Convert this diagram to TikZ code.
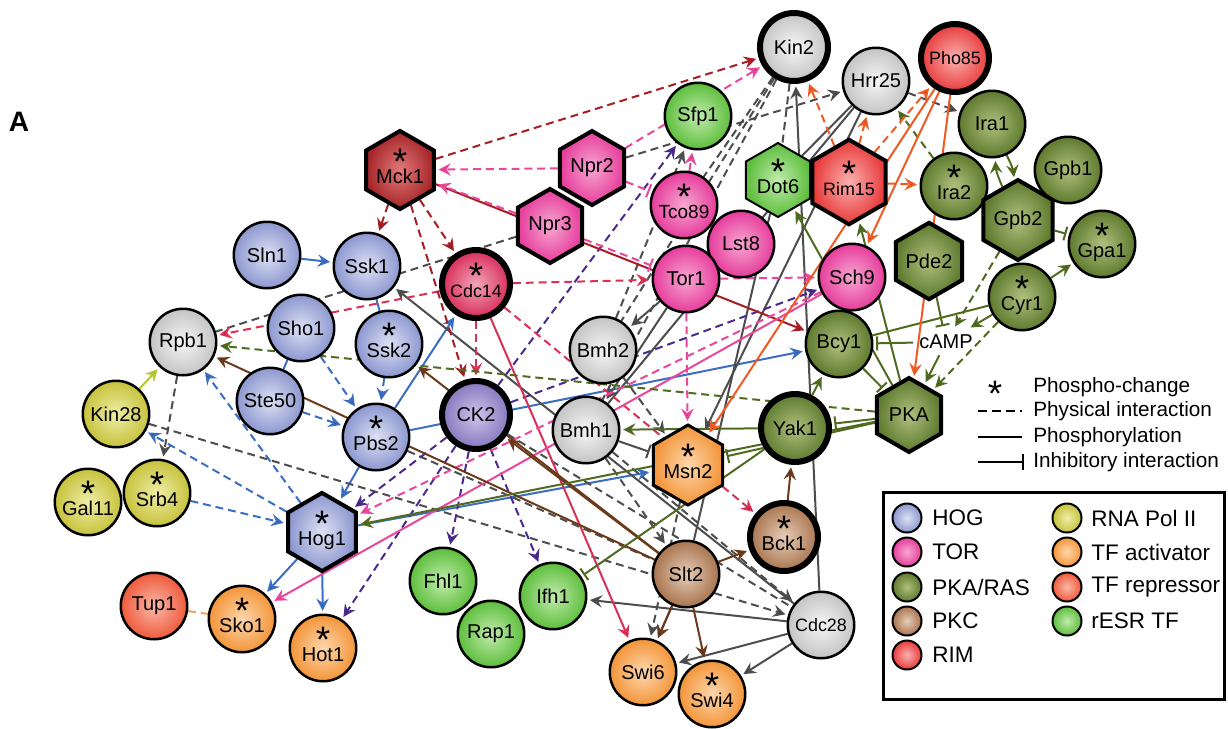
\documentclass[tikz,border=0pt]{standalone}
\usepackage{fontspec}
\setmainfont{Liberation Sans}
\usetikzlibrary{shapes.geometric,arrows.meta,backgrounds}

% node fills (outer / inner) and line colours
\definecolor{hogo}{HTML}{8C97CF}\definecolor{hogi}{HTML}{DDE1F4}\definecolor{hogc}{HTML}{3B6DC2}
\definecolor{toro}{HTML}{E63C9B}\definecolor{tori}{HTML}{F7A8D2}\definecolor{torc}{HTML}{E8479C}
\definecolor{pkao}{HTML}{5E7A2E}\definecolor{pkai}{HTML}{AFC07E}\definecolor{pkac}{HTML}{506B20}
\definecolor{pkco}{HTML}{A8744E}\definecolor{pkci}{HTML}{E6CDB8}\definecolor{pkcc}{HTML}{6B3A1A}
\definecolor{rimo}{HTML}{E83A3A}\definecolor{rimi}{HTML}{FBB0B0}\definecolor{rimc}{HTML}{F05A22}
\definecolor{polo}{HTML}{C6C23C}\definecolor{poli}{HTML}{EFEEA8}\definecolor{polc}{HTML}{B4C92A}
\definecolor{tfao}{HTML}{F39539}\definecolor{tfai}{HTML}{FDD7AE}\definecolor{tfac}{HTML}{F2A35C}
\definecolor{repo}{HTML}{EE5A3C}\definecolor{repi}{HTML}{FBB8A8}
\definecolor{esro}{HTML}{5DBE3C}\definecolor{esri}{HTML}{C2EBAE}
\definecolor{greyo}{HTML}{C4C4C4}\definecolor{greyi}{HTML}{F6F6F6}\definecolor{greyc}{HTML}{4D4D4D}
\definecolor{mcko}{HTML}{A52428}\definecolor{mcki}{HTML}{E27A7A}\definecolor{mckc}{HTML}{A61E24}
\definecolor{cdco}{HTML}{D82C58}\definecolor{cdci}{HTML}{F2A6B8}\definecolor{cdcc}{HTML}{D93055}
\definecolor{cko}{HTML}{8676BE}\definecolor{cki}{HTML}{CDC4EA}\definecolor{ckc}{HTML}{4B2A8E}

% star over a label
\newcommand{\ph}[1]{{\fontsize{21}{10}\selectfont *}\\[-7pt]#1\rule[-4pt]{0pt}{4pt}}

\begin{document}
\begin{tikzpicture}[x=0.02cm, y=-0.02cm,
  font=\fontsize{11.4}{12}\selectfont,
  mynode/.style={draw, circle, minimum size=1.33cm, inner sep=0pt, line width=0.05cm, align=center},
  mynodethick/.style={mynode, line width=0.12cm, minimum size=1.36cm},
  myhex/.style={draw, regular polygon, regular polygon sides=6, shape border rotate=30,
    minimum size=1.48cm, inner sep=0pt, line width=0.08cm, align=center},
  tight/.style={font=\fontsize{10.2}{12}\selectfont},
  hogfill/.style={shade, inner color=hogi, outer color=hogo},
  torfill/.style={shade, inner color=tori, outer color=toro},
  pkafill/.style={shade, inner color=pkai, outer color=pkao},
  pkcfill/.style={shade, inner color=pkci, outer color=pkco},
  rimfill/.style={shade, inner color=rimi, outer color=rimo},
  polfill/.style={shade, inner color=poli, outer color=polo},
  tfafill/.style={shade, inner color=tfai, outer color=tfao},
  repfill/.style={shade, inner color=repi, outer color=repo},
  esrfill/.style={shade, inner color=esri, outer color=esro},
  greyfill/.style={shade, inner color=greyi, outer color=greyo},
  mckfill/.style={shade, inner color=mcki, outer color=mcko},
  cdcfill/.style={shade, inner color=cdci, outer color=cdco},
  ckfill/.style={shade, inner color=cki, outer color=cko},
  act/.style={-{Stealth[length=7pt,width=7pt,inset=2.5pt]}, shorten >=1.5pt},
  inh/.style={-{Bar[width=8pt]}, shorten >=1.5pt},
  phys/.style={dash pattern=on 4.5pt off 2.8pt},
  hogl/.style={draw=hogc, line width=0.04cm},
  torl/.style={draw=torc, line width=0.04cm},
  pkal/.style={draw=pkac, line width=0.04cm},
  pkcl/.style={draw=pkcc, line width=0.04cm},
  riml/.style={draw=rimc, line width=0.04cm},
  poll/.style={draw=polc, line width=0.04cm},
  tfal/.style={draw=tfac, line width=0.04cm},
  greyl/.style={draw=greyc, line width=0.04cm},
  mckl/.style={draw=mckc, line width=0.04cm},
  cdcl/.style={draw=cdcc, line width=0.04cm},
  ckl/.style={draw=ckc, line width=0.04cm},
  legdot/.style={draw, circle, minimum size=0.58cm, inner sep=0pt, line width=0.04cm},
  keytext/.style={anchor=west, inner sep=0pt}
]
\useasboundingbox (0,0) rectangle (1228,728);

\node[font=\fontsize{16}{16}\selectfont\bfseries] (panel) at (19,122) {A};

% HOG
\node[mynode, hogfill] (Sln1) at (267,255) {Sln1};
\node[mynode, hogfill] (Ssk1) at (367,266) {Ssk1};
\node[mynode, hogfill] (Sho1) at (301,328) {Sho1};
\node[mynode, hogfill] (Ssk2) at (389,344) {\ph{Ssk2}};
\node[mynode, hogfill] (Ste50) at (270,401) {Ste50};
\node[mynode, hogfill] (Pbs2) at (376,437) {\ph{Pbs2}};
\node[myhex, hogfill] (Hog1) at (322,532) {\ph{Hog1}};

% RNA Pol II
\node[mynode, greyfill] (Rpb1) at (183,342) {Rpb1};
\node[mynode, polfill] (Kin28) at (116,414) {Kin28};
\node[mynode, polfill] (Gal11) at (88,502) {\ph{Gal11}};
\node[mynode, polfill] (Srb4) at (157,493) {\ph{Srb4}};

% transcription factors
\node[mynode, repfill] (Tup1) at (154,606) {Tup1};
\node[mynode, tfafill] (Sko1) at (242,619) {\ph{Sko1}};
\node[mynode, tfafill] (Hot1) at (323,648) {\ph{Hot1}};
\node[mynode, esrfill] (Fhl1) at (443,581) {Fhl1};
\node[mynode, esrfill] (Rap1) at (491,634) {Rap1};
\node[mynode, esrfill] (Ifh1) at (553,596) {Ifh1};
\node[mynode, tfafill] (Swi6) at (643,672) {Swi6};
\node[mynode, tfafill] (Swi4) at (712,694) {\ph{Swi4}};
\node[myhex, tfafill, line width=0.06cm] (Msn2) at (688,465) {\ph{Msn2}};
\node[mynode, esrfill] (Sfp1) at (698,116) {Sfp1};
\node[myhex, esrfill, line width=0.04cm] (Dot6) at (778,180) {\ph{Dot6}};

% PKC
\node[mynode, pkcfill] (Slt2) at (686,574) {Slt2};
\node[mynodethick, pkcfill] (Bck1) at (784,537) {\ph{Bck1}};

% other kinases
\node[mynodethick, greyfill] (Kin2) at (794,47) {Kin2};
\node[mynode, greyfill] (Hrr25) at (876,81) {Hrr25};
\node[mynode, greyfill] (Bmh2) at (603,350) {Bmh2};
\node[mynode, greyfill] (Bmh1) at (586,430) {Bmh1};
\node[mynode, greyfill, tight] (Cdc28) at (821,625) {Cdc28};
\node[mynodethick, ckfill] (CK2) at (476,415) {CK2};
\node[mynodethick, cdcfill, tight] (Cdc14) at (476,284) {\ph{Cdc14}};
\node[myhex, mckfill] (Mck1) at (400,170) {\ph{Mck1}};

% TOR
\node[myhex, torfill] (Npr2) at (592,168) {Npr2};
\node[myhex, torfill] (Npr3) at (550,226) {Npr3};
\node[mynode, torfill, font=\fontsize{10.8}{12}\selectfont] (Tco89) at (684,205) {\ph{Tco89}};
\node[mynode, torfill] (Lst8) at (741,244) {Lst8};
\node[mynode, torfill] (Tor1) at (686,279) {Tor1};
\node[mynode, torfill] (Sch9) at (852,277) {Sch9};

% RIM
\node[mynodethick, rimfill, tight] (Pho85) at (955,58) {Pho85};
\node[myhex, rimfill, tight] (Rim15) at (849,182) {\ph{Rim15}};

% PKA/RAS
\node[mynode, pkafill] (Ira1) at (992,124) {Ira1};
\node[mynode, pkafill] (Ira2) at (954,186) {\ph{Ira2}};
\node[mynode, pkafill] (Gpb1) at (1068,170) {Gpb1};
\node[myhex, pkafill] (Gpb2) at (1018,220) {Gpb2};
\node[mynode, pkafill] (Gpa1) at (1102,244) {\ph{Gpa1}};
\node[myhex, pkafill] (Pde2) at (929,261) {Pde2};
\node[mynode, pkafill] (Cyr1) at (1022,297) {\ph{Cyr1}};
\node[mynode, pkafill] (Bcy1) at (839,344) {Bcy1};
\node (cAMP) at (946,342) {cAMP};
\node[myhex, pkafill] (PKA) at (909,415) {PKA};
\node[mynodethick, pkafill] (Yak1) at (795,428) {Yak1};

\begin{scope}[on background layer]
% HOG
\path[hogl, act]
 (Sln1) edge (Ssk1)
 (Pbs2) edge (Hog1)
 (Pbs2) edge (Cdc14)
 (Pbs2) edge (Bcy1)
 (Hog1) edge (Sko1)
 (Hog1) edge (Hot1)
 (Hog1) edge (Msn2);
\path[hogl] (Ssk1) edge (Ssk2) (Sho1) edge (Ste50);
\path[hogl, act, phys]
 (Ssk2) edge (Pbs2)
 (Sho1) edge (Pbs2)
 (Ste50) edge (Pbs2)
 (Hog1) edge (Rpb1)
 (Hog1) edge (Kin28)
 (Srb4) edge (Hog1);

% Pol II and repressor
\path[poll, act] (Kin28) edge (Rpb1);
\path[tfal, phys] (Tup1) edge (Sko1);

% grey kinases / 14-3-3
\path[greyl, act]
 (Cdc28) edge (Ssk1)
 (Cdc28) edge (Kin2)
 (Cdc28) edge (Ifh1)
 (Cdc28) edge (Swi4)
 (Cdc28) edge (Swi6)
 (Tor1) edge (Bmh2)
 (Tor1) edge (Bmh1)
 (Slt2) edge (Swi6)
 (Hrr25) edge (Msn2);
\path[greyl] (Hrr25) edge (Dot6) (Hrr25) edge (Bmh1) (Dot6) edge (Slt2);
\path[greyl, inh] (Bmh1) edge (Msn2);
\path[greyl, act, phys]
 (Rpb1) edge (Srb4)
 (Kin28) edge (Cdc28)
 (Npr2) edge (Hrr25)
 (Bmh2) edge (Sfp1)
 (Hrr25) edge (Ira1)
 (Msn2) edge (Swi6)
 (Bmh1) edge (Slt2)
 (Bmh1) edge (Cdc28)
 (Bmh2) edge (Msn2);
\path[greyl, phys]
 (Npr3) edge (Rpb1)
 (Pbs2) edge (Slt2)
 (CK2) edge (Cdc28)
 (Kin2) edge (Bmh2)
 (Kin2) edge (Bmh1)
 (Kin2) edge (Tco89)
 (Kin2) edge (Dot6);

% CK2
\path[ckl, act, phys]
 (CK2) edge (Hog1)
 (CK2) edge (Hot1)
 (CK2) edge (Fhl1)
 (CK2) edge (Ifh1)
 (CK2) edge (Sch9)
 (CK2) edge (Sfp1);

% Cdc14 and Mck1
\path[cdcl, act, phys]
 (Cdc14) edge (Rpb1)
 (Cdc14) edge (Tor1)
 (Cdc14) edge (CK2)
 (Cdc14) edge (Bck1);
\path[cdcl, act] (Cdc14) edge (Swi6);
\path[mckl, act, phys]
 (Mck1) edge (Ssk1)
 (Mck1) edge (Cdc14)
 (Mck1) edge (CK2)
 (Mck1) edge (Kin2);
\path[mckl, act] (Mck1) edge (Bcy1);

% TOR
\path[torl, act, phys]
 (Npr2) edge (Mck1)
 (Npr3) edge (Mck1)
 (Tor1) edge (Sch9)
 (Npr2) edge (Kin2)
 (Tco89) edge (Sfp1)
 (Sch9) edge (Hog1)
 (Tor1) edge (Msn2);
\path[torl, inh, phys] (Npr3) edge (Tor1) (Npr2) edge (Tco89);
\path[torl, act] (Sch9) edge (Sko1);

% PKC
\path[pkcl, act]
 (Slt2) edge (Rpb1)
 (Slt2) edge (Swi6)
 (Slt2) edge (Swi4)
 (Slt2) edge (Bck1)
 (Bck1) edge (Yak1)
 (Slt2) edge (CK2)
 (Slt2) edge (Ssk2);

% PKA/RAS
\path[pkal, act]
 (PKA) edge (Hog1)
 (Yak1) edge (Bcy1)
 (PKA) edge (Dot6)
 (PKA) edge (Rim15)
 (Cyr1) edge (cAMP)
 (cAMP) edge (PKA)
 (Gpb2) edge[bend left=10] (Ira1)
 (Ira1) edge[bend left=10] (Gpb2)
 (Cyr1) edge (Gpa1)
 (Yak1) edge (Bmh1);
\path[pkal, act, phys]
 (PKA) edge (Rpb1)
 (Gpb2) edge (cAMP)
 (Cyr1) edge (PKA)
 (Ira2) edge (Hrr25);
\path[pkal, inh]
 (Gpb2) edge (Gpa1)
 (Pde2) edge (cAMP)
 (cAMP) edge (Bcy1)
 (Bcy1) edge (PKA)
 (PKA) edge (Yak1)
 (Yak1) edge (Ifh1)
 (PKA) edge (Msn2);
\path[pkal] (Gpb2) edge (Ira2) (Cyr1) edge (Bcy1);

% RIM
\path[riml, act]
 (Pho85) edge (PKA)
 (Pho85) edge (Msn2)
 (Pho85) edge (Sch9);
\path[riml, act, phys]
 (Rim15) edge (Ira2)
 (Rim15) edge (Hrr25)
 (Rim15) edge (Kin2)
 (Rim15) edge (Pho85);
\end{scope}

% line key
\node[font=\fontsize{21}{10}\selectfont] (kast) at (995,394) {*};
\coordinate (kdashA) at (978,411); \coordinate (kdashB) at (1022,411);
\coordinate (ksolA) at (978,437); \coordinate (ksolB) at (1022,437);
\coordinate (kinhA) at (978,462); \coordinate (kinhB) at (1024,462);
\draw[line width=0.05cm, dash pattern=on 5pt off 3pt] (kdashA) -- (kdashB);
\draw[line width=0.05cm] (ksolA) -- (ksolB);
\draw[line width=0.05cm, -{Bar[width=9pt]}] (kinhA) -- (kinhB);
\begin{scope}[font=\fontsize{11.8}{12}\selectfont]
\node[keytext] (kphos) at (1033,387) {Phospho-change};
\node[keytext] (kphys) at (1033,411) {Physical interaction};
\node[keytext] (kphor) at (1033,437) {Phosphorylation};
\node[keytext] (kinh) at (1033,462) {Inhibitory interaction};
\end{scope}

% colour key
\node[draw, line width=0.06cm, minimum width=6.84cm, minimum height=4.16cm, inner sep=0pt] (legbox) at (1054,596) {};
\begin{scope}[font=\fontsize{12.8}{14}\selectfont]
\node[legdot, hogfill] (lhog) at (907,518) {};
\node[keytext] (thog) at (932,518) {HOG};
\node[legdot, torfill] (ltor) at (907,552) {};
\node[keytext] (ttor) at (932,552) {TOR};
\node[legdot, pkafill] (lpka) at (907,587) {};
\node[keytext] (tpka) at (932,587) {PKA/RAS};
\node[legdot, pkcfill] (lpkc) at (907,621) {};
\node[keytext] (tpkc) at (932,621) {PKC};
\node[legdot, rimfill] (lrim) at (907,655) {};
\node[keytext] (trim) at (932,655) {RIM};
\node[legdot, polfill] (lpol) at (1067,518) {};
\node[keytext] (tpol) at (1091,518) {RNA Pol II};
\node[legdot, tfafill] (ltfa) at (1067,552) {};
\node[keytext] (ttfa) at (1091,552) {TF activator};
\node[legdot, repfill] (lrep) at (1067,587) {};
\node[keytext] (trep) at (1091,587) {TF repressor};
\node[legdot, esrfill] (lesr) at (1067,621) {};
\node[keytext] (tesr) at (1091,621) {rESR TF};
\end{scope}
\end{tikzpicture}
\end{document}
